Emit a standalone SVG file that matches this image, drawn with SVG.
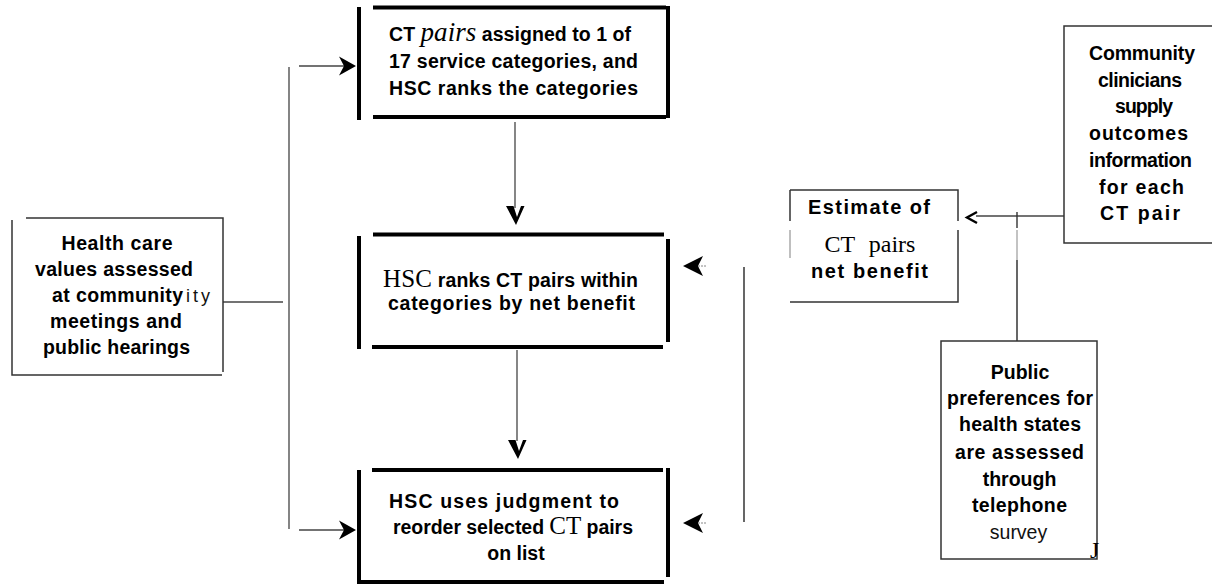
<svg xmlns="http://www.w3.org/2000/svg" width="1212" height="584" viewBox="0 0 1212 584">
<style>
.b{font-family:"Liberation Sans",Arial,sans-serif;font-weight:bold;fill:#000}
.r{font-family:"Liberation Sans",Arial,sans-serif;font-weight:normal;fill:#111}
.m{font-size:19.5px}
.s19{font-size:19.5px}
.sf{font-family:"Liberation Serif","Times New Roman",serif;font-weight:normal}
.sfi{font-family:"Liberation Serif","Times New Roman",serif;font-weight:normal;font-style:italic}
.thick{stroke:#000;stroke-width:4;fill:none}
.thin{stroke:#333;stroke-width:1.5;fill:none}
.conn{stroke:#444;stroke-width:1.3;fill:none}
.head{fill:#000;stroke:none}
</style>
<rect width="1212" height="584" fill="#fff"/>

<g id="connectors">
  <line x1="289" y1="67" x2="289" y2="529" stroke="#666" stroke-width="1.6"/>
  <line class="conn" x1="299" y1="66" x2="345" y2="66"/>
  <polygon class="head" points="356,66 339,56.5 344,66 339,75.5"/>
  <line class="conn" x1="299" y1="530" x2="345" y2="530"/>
  <polygon class="head" points="356,530 339,520.5 344,530 339,539.5"/>
  <line class="conn" x1="223" y1="302" x2="283" y2="302"/>
  <line class="conn" x1="515" y1="122" x2="515" y2="208"/>
  <polygon class="head" points="506,206 513.5,206 517,217 521,206 524.5,206 516,225"/>
  <line class="conn" x1="517" y1="350" x2="517" y2="441"/>
  <polygon class="head" points="508,440 515.5,440 519,451 523,440 526.5,440 518,459"/>
  <polygon class="head" points="683,266 703,256 698,266 703,276"/>
  <line x1="698" y1="266" x2="706" y2="266" stroke="#888" stroke-width="1" stroke-dasharray="2,1"/>
  <polygon class="head" points="683,523 703,513 698,523 703,533"/>
  <line x1="698" y1="523" x2="706" y2="523" stroke="#888" stroke-width="1" stroke-dasharray="2,1"/>
  <line x1="744" y1="267" x2="744" y2="522" stroke="#000" stroke-width="1.2"/>
  <line class="conn" x1="976" y1="216" x2="1064" y2="216"/>
  <polyline points="977,212 967,217.5 977,223" fill="none" stroke="#000" stroke-width="2.4"/>
  <line x1="1017" y1="212" x2="1017" y2="228" stroke="#333" stroke-width="1.4"/>
  <line x1="1017" y1="230" x2="1017" y2="260" stroke="#aaa" stroke-width="1.4"/>
  <line x1="1017" y1="260" x2="1017" y2="341" stroke="#000" stroke-width="1.2"/>
</g>

<g id="node-box1">
  <line class="thick" x1="359" y1="7" x2="359" y2="120"/>
  <line class="thick" x1="373" y1="7.5" x2="666" y2="7.5"/>
  <line class="thick" x1="668" y1="6" x2="668" y2="118"/>
  <line class="thick" x1="373" y1="117" x2="666" y2="117"/>
  <text class="b m" x="510" y="41" text-anchor="middle" textLength="242" lengthAdjust="spacing">CT <tspan class="sfi" font-size="27">pairs</tspan> assigned to 1 of</text>
  <text class="b m" x="513.5" y="68" text-anchor="middle" textLength="249" lengthAdjust="spacing">17 service categories, and</text>
  <text class="b m" x="513.5" y="95" text-anchor="middle" textLength="249" lengthAdjust="spacing">HSC ranks the categories</text>
</g>

<g id="node-box2">
  <line class="thick" x1="359" y1="236" x2="359" y2="349"/>
  <line class="thick" x1="373" y1="234.5" x2="664" y2="234.5"/>
  <line class="thick" x1="668" y1="239" x2="668" y2="342"/>
  <line class="thick" x1="372" y1="347" x2="663" y2="347"/>
  <text class="b m" x="510.5" y="287" text-anchor="middle" textLength="255" lengthAdjust="spacing"><tspan class="sf" font-size="25">HSC</tspan> ranks CT pairs within</text>
  <text class="b m" x="511.5" y="310" text-anchor="middle" textLength="247" lengthAdjust="spacing">categories by net benefit</text>
</g>

<g id="node-box3">
  <line class="thick" x1="359" y1="470" x2="359" y2="583"/>
  <line class="thick" x1="372" y1="470" x2="663" y2="470"/>
  <line class="thick" x1="668" y1="468" x2="668" y2="577"/>
  <line class="thick" x1="357" y1="582" x2="664" y2="582"/>
  <text class="b m" x="504" y="508" text-anchor="middle" textLength="230" lengthAdjust="spacing">HSC uses judgment to</text>
  <text class="b m" x="513" y="534" text-anchor="middle" textLength="240" lengthAdjust="spacing">reorder selected <tspan class="sf" font-size="25">CT</tspan> pairs</text>
  <text class="b m" x="516" y="560" text-anchor="middle">on list</text>
</g>

<g id="node-health">
  <path class="thin" d="M26,218 H223 V372 M12,220 V375 H222"/>
  <text class="b s19" x="117" y="250" text-anchor="middle" textLength="111" lengthAdjust="spacing">Health care</text>
  <text class="b s19" x="114" y="276" text-anchor="middle" textLength="158" lengthAdjust="spacing">values assessed</text>
  <text class="b s19" x="52" y="302" textLength="131" lengthAdjust="spacing">at community</text>
  <text class="r" font-size="18" x="186" y="302" letter-spacing="3">ity</text>
  <text class="b s19" x="116" y="328" text-anchor="middle" textLength="132" lengthAdjust="spacing">meetings and</text>
  <text class="b s19" x="116.5" y="354" text-anchor="middle" textLength="147" lengthAdjust="spacing">public hearings</text>
</g>

<g id="node-estimate">
  <path class="thin" d="M790,190 H958 V221 M958,230 V302 H790 M790,190 V221"/>
  <line x1="790" y1="230" x2="790" y2="258" stroke="#aaa" stroke-width="1.5"/>
  <text class="b" font-size="20" x="869" y="214" text-anchor="middle" textLength="122" lengthAdjust="spacing">Estimate of</text>
  <text class="sf" font-size="24" x="870" y="252" text-anchor="middle" word-spacing="8" fill="#000">CT pairs</text>
  <text class="b" font-size="20" x="869.5" y="278" text-anchor="middle" textLength="117" lengthAdjust="spacing">net benefit</text>
</g>

<g id="node-clinicians">
  <path class="thin" d="M1212,26 H1064 V243 H1212"/>
  <text class="b s19" x="1142" y="60" text-anchor="middle" textLength="106" lengthAdjust="spacing">Community</text>
  <text class="b s19" x="1140" y="87" text-anchor="middle" textLength="84" lengthAdjust="spacing">clinicians</text>
  <text class="b s19" x="1144" y="113" text-anchor="middle" textLength="58" lengthAdjust="spacing">supply</text>
  <text class="b s19" x="1138.5" y="140" text-anchor="middle" textLength="99" lengthAdjust="spacing">outcomes</text>
  <text class="b s19" x="1140.5" y="167" text-anchor="middle" textLength="103" lengthAdjust="spacing">information</text>
  <text class="b s19" x="1141.5" y="194" text-anchor="middle" textLength="85" lengthAdjust="spacing">for each</text>
  <text class="b s19" x="1140" y="220" text-anchor="middle" textLength="80" lengthAdjust="spacing">CT pair</text>
</g>

<g id="node-public">
  <rect class="thin" x="941" y="341" width="156" height="218"/>
  <text class="b s19" x="1020" y="379" text-anchor="middle">Public</text>
  <text class="b s19" x="1020" y="405" text-anchor="middle" textLength="146" lengthAdjust="spacing">preferences for</text>
  <text class="b s19" x="1020" y="431" text-anchor="middle" textLength="122" lengthAdjust="spacing">health states</text>
  <text class="b s19" x="1019.5" y="459" text-anchor="middle" textLength="129" lengthAdjust="spacing">are assessed</text>
  <text class="b s19" x="1019.5" y="486" text-anchor="middle">through</text>
  <text class="b s19" x="1019.5" y="512" text-anchor="middle" textLength="95" lengthAdjust="spacing">telephone</text>
  <text class="r s19" x="1018.5" y="539" text-anchor="middle">survey</text>
  <text class="sf" font-size="24" x="1090" y="558" fill="#000">J</text>
</g>
</svg>
